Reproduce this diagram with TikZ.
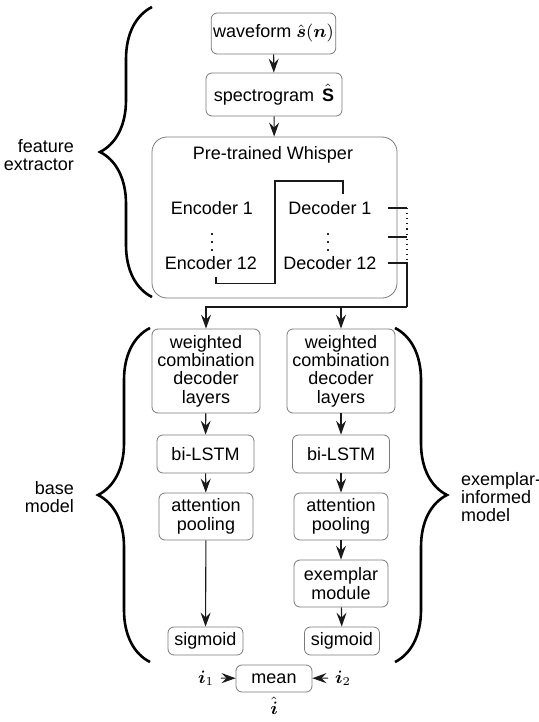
\documentclass[tikz,border=0pt]{standalone}
\usepackage{amsmath}
\usepackage{fontspec}
\setmainfont{Liberation Sans}
\usetikzlibrary{arrows.meta,decorations.pathreplacing}
\definecolor{frame}{HTML}{7A7A7A}
\definecolor{wire}{HTML}{1A1A1A}

\begin{document}
\begin{tikzpicture}[x=0.5pt, y=-0.5pt, font=\fontsize{9}{9.2}\selectfont,
  >={Stealth[length=7pt, width=5pt, inset=2.5pt]},
  blk/.style={draw=frame, rounded corners=3pt, align=center, inner sep=1pt},
  link/.style={->, color=wire, line width=0.55pt},
  wirebus/.style={color=wire, line width=0.55pt},
  curly/.style={decorate, decoration={brace, amplitude=26pt}, line width=1.3pt}]
\useasboundingbox (0,0) rectangle (539,722);

% feature extractor
\node[blk, minimum width=61.5pt, minimum height=20.5pt] (wave) at (273.5,33.5)
  {waveform $\hat{\boldsymbol{s}}(\boldsymbol{n})$};
\node[blk, minimum width=68pt, minimum height=21.5pt] (spec) at (274,94.5)
  {spectrogram \,$\hat{\mathbf{S}}$};
\node[draw=frame, rounded corners=7.5pt, minimum width=122.5pt, minimum height=80.5pt] (wsp) at (274.5,217.5) {};
\node (wsptitle) at (273,155) {Pre-trained Whisper};
\node (enc1) at (212,208) {Encoder 1};
\node[inner sep=0pt] (encdots) at (212,237) {$\vdots$};
\node (enc12) at (211,263) {Encoder 12};
\node (dec1) at (330,208) {Decoder 1};
\node[inner sep=0pt] (decdots) at (328,237) {$\vdots$};
\node (dec12) at (330,263) {Decoder 12};
\coordinate (bus) at (407,307);
\coordinate (d1o) at ([xshift=4.5pt]dec1.east);

\draw[link] (wave) -- (spec);
\draw[link] (spec) -- (wsp);
\draw[wirebus] ([xshift=2.5pt]enc12.south) -- ++(0,7) -| (275,181) -| ([xshift=6.5pt]dec1.north);
\draw[wirebus] (d1o) -- (d1o -| bus);
\draw[wirebus] (d1o |- decdots) -- (bus |- decdots);
\draw[wirebus, dotted] (d1o -| bus) -- (bus |- dec12);
\draw[wirebus] (d1o |- dec12) -- (bus |- dec12) -- (bus);

% base model and exemplar-informed model
\node[blk, minimum width=54pt, minimum height=42pt] (wcl) at (206,371)
  {weighted\\combination\\decoder\\layers};
\node[blk, minimum width=54pt, minimum height=42pt] (wcr) at (341,371)
  {weighted\\combination\\decoder\\layers};
\node[blk, minimum width=48.5pt, minimum height=19pt] (bil) at (205.5,454) {bi-LSTM};
\node[blk, minimum width=48.5pt, minimum height=19pt] (bir) at (341,454) {bi-LSTM};
\node[blk, minimum width=47pt, minimum height=23.5pt] (attl) at (206,516.5) {attention\\pooling};
\node[blk, minimum width=47pt, minimum height=23.5pt] (attr) at (341,516.5) {attention\\pooling};
\node[blk, minimum width=47pt, minimum height=23.5pt] (exm) at (341,583.5) {exemplar\\module};
\node[blk, minimum width=37.5pt, minimum height=14pt] (sigl) at (205.5,641) {sigmoid};
\node[blk, minimum width=37.5pt, minimum height=14pt] (sigr) at (342,641) {sigmoid};

\draw[link] (bus) -| (wcl.north);
\draw[link] (bus -| wcr.north) -- (wcr.north);
\draw[link] (wcl) -- (bil);
\draw[link] (bil) -- (attl);
\draw[link] (attl) -- (sigl);
\draw[link] (wcr) -- (bir);
\draw[link] (bir) -- (attr);
\draw[link] (attr) -- (exm);
\draw[link] (exm) -- (sigr);

% fusion
\node[blk, minimum width=38pt, minimum height=13.5pt] (mean) at (274,678.5) {mean};
\node (i1) at (206,678) {$\boldsymbol{i}_1$};
\node (i2) at (343,678) {$\boldsymbol{i}_2$};
\node[inner sep=0pt] (ihat) at (274,706) {$\hat{\boldsymbol{i}}$};
\draw[link] (i1) -- (mean);
\draw[link] (i2) -- (mean);

% braces
\draw[curly] (152,297) -- (152,7);
\draw[curly] (150,662) -- (150,328);
\draw[curly] (395,328) -- (395,662);
\node[align=right, anchor=east] (featlbl) at (81,155) {feature\\extractor};
\node[align=right, anchor=east] (baselbl) at (81,497) {base\\model};
\node[align=left, anchor=west] (exlbl) at (454,497) {exemplar-\\informed\\model};
\end{tikzpicture}
\end{document}
